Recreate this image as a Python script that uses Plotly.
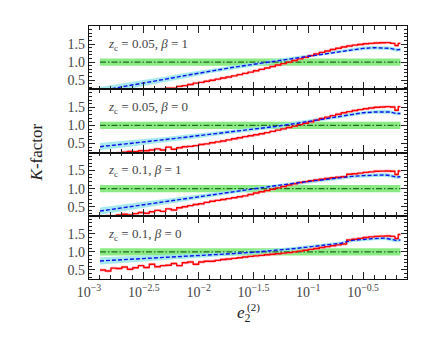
import plotly.graph_objects as go
from plotly.subplots import make_subplots

# x values are log10(e2)
BLUE_X = [-2.9, -2.7, -2.5, -2.3, -2.1, -1.9, -1.7, -1.5, -1.3, -1.1, -0.9,
          -0.7, -0.6, -0.5, -0.4, -0.3, -0.25, -0.2, -0.16]
BLUE_ERR = [0.10, 0.09, 0.08, 0.07, 0.07, 0.06, 0.06, 0.05, 0.05, 0.05, 0.05,
            0.05, 0.05, 0.05, 0.05, 0.05, 0.05, 0.05, 0.05]

blue_1 = [0.21, 0.31, 0.42, 0.53, 0.64, 0.75, 0.85, 0.94, 1.03, 1.12, 1.22,
          1.31, 1.35, 1.38, 1.40, 1.40, 1.38, 1.34, 1.35]
blue_2 = [0.41, 0.47, 0.54, 0.61, 0.68, 0.75, 0.82, 0.89, 0.97, 1.06, 1.16,
          1.27, 1.31, 1.35, 1.37, 1.38, 1.37, 1.33, 1.33]
blue_3 = [0.38, 0.47, 0.56, 0.65, 0.74, 0.83, 0.92, 1.00, 1.08, 1.16, 1.24,
          1.31, 1.34, 1.36, 1.38, 1.38, 1.36, 1.32, 1.33]
blue_4 = [0.75, 0.78, 0.82, 0.85, 0.88, 0.91, 0.95, 0.99, 1.04, 1.10, 1.17,
          1.24, 1.32, 1.35, 1.37, 1.38, 1.36, 1.32, 1.33]

RED_X = [-2.90, -2.85, -2.80, -2.75, -2.70, -2.65, -2.60, -2.55, -2.50, -2.45,
         -2.40, -2.35, -2.30, -2.25, -2.20, -2.15, -2.10, -2.05, -2.00, -1.95,
         -1.90, -1.85, -1.80, -1.75, -1.70, -1.65, -1.60, -1.55, -1.50, -1.45,
         -1.40, -1.35, -1.30, -1.25, -1.20, -1.15, -1.10, -1.05, -1.00, -0.95,
         -0.90, -0.85, -0.80, -0.75, -0.70, -0.65, -0.60, -0.55, -0.50, -0.45,
         -0.40, -0.35, -0.30, -0.25, -0.21, -0.18, -0.16]
RED_ERR = 0.04

red_1 = [-0.05, -0.02, 0.01, 0.04, 0.06, 0.09, 0.12, 0.15, 0.17, 0.20,
         0.23, 0.26, 0.28, 0.28, 0.33, 0.35, 0.38, 0.42, 0.44, 0.47,
         0.50, 0.53, 0.56, 0.59, 0.62, 0.655, 0.69, 0.725, 0.76, 0.80,
         0.84, 0.88, 0.92, 0.96, 1.00, 1.045, 1.09, 1.135, 1.18, 1.225,
         1.27, 1.31, 1.35, 1.385, 1.42, 1.445, 1.47, 1.49, 1.51, 1.52,
         1.53, 1.535, 1.54, 1.52, 1.46, 1.52, 1.52]
red_2 = [0.16, 0.19, 0.22, 0.24, 0.26, 0.28, 0.27, 0.30, 0.30, 0.32,
         0.35, 0.32, 0.40, 0.34, 0.38, 0.41, 0.42, 0.44, 0.47, 0.49,
         0.52, 0.545, 0.57, 0.60, 0.63, 0.66, 0.69, 0.715, 0.74, 0.77,
         0.80, 0.835, 0.87, 0.905, 0.94, 0.98, 1.02, 1.06, 1.10, 1.145,
         1.19, 1.23, 1.27, 1.31, 1.35, 1.38, 1.41, 1.435, 1.46, 1.48,
         1.50, 1.51, 1.52, 1.51, 1.42, 1.52, 1.52]
red_3 = [0.22, 0.25, 0.24, 0.27, 0.29, 0.27, 0.31, 0.34, 0.32, 0.36,
         0.40, 0.37, 0.44, 0.41, 0.47, 0.50, 0.53, 0.56, 0.58, 0.62,
         0.65, 0.675, 0.70, 0.725, 0.75, 0.775, 0.80, 0.84, 0.88, 0.915,
         0.95, 0.985, 1.02, 1.06, 1.10, 1.135, 1.17, 1.195, 1.22, 1.24,
         1.26, 1.28, 1.30, 1.315, 1.33, 1.40, 1.41, 1.43, 1.45, 1.465,
         1.48, 1.485, 1.49, 1.48, 1.39, 1.49, 1.49]
red_4 = [0.50, 0.47, 0.55, 0.54, 0.58, 0.52, 0.56, 0.62, 0.57, 0.66,
         0.59, 0.62, 0.63, 0.68, 0.62, 0.70, 0.72, 0.66, 0.72, 0.74,
         0.74, 0.765, 0.79, 0.805, 0.82, 0.84, 0.86, 0.875, 0.89, 0.905,
         0.92, 0.935, 0.95, 0.965, 0.98, 1.00, 1.02, 1.045, 1.07, 1.095,
         1.12, 1.145, 1.17, 1.195, 1.22, 1.33, 1.35, 1.375, 1.40, 1.415,
         1.43, 1.435, 1.44, 1.43, 1.37, 1.48, 1.48]

GREEN_X = [-2.9, -0.16]
GREEN_ERR = 0.1

labels = ["<i>z</i><sub>c</sub> = 0.05, <i>β</i> = 1",
          "<i>z</i><sub>c</sub> = 0.05, <i>β</i> = 0",
          "<i>z</i><sub>c</sub> = 0.1, <i>β</i> = 1",
          "<i>z</i><sub>c</sub> = 0.1, <i>β</i> = 0"]
blues = [blue_1, blue_2, blue_3, blue_4]
reds = [red_1, red_2, red_3, red_4]

x_tickvals = [-3, -2.5, -2, -1.5, -1, -0.5]
x_ticktext = ["10<sup>−3</sup>", "10<sup>−2.5</sup>", "10<sup>−2</sup>",
              "10<sup>−1.5</sup>", "10<sup>−1</sup>", "10<sup>−0.5</sup>"]

FONT = "Liberation Serif, Times New Roman, serif"

fig = make_subplots(rows=4, cols=1, shared_xaxes=True, vertical_spacing=0)

for i in range(4):
    r = i + 1
    b = blues[i]
    rd = reds[i]
    # green band + line
    fig.add_trace(go.Scatter(x=GREEN_X, y=[1 + GREEN_ERR] * 2, mode="lines",
                             line=dict(width=0), showlegend=False, hoverinfo="skip"), row=r, col=1)
    fig.add_trace(go.Scatter(x=GREEN_X, y=[1 - GREEN_ERR] * 2, mode="lines",
                             line=dict(width=0), fill="tonexty",
                             fillcolor="rgba(120,230,110,0.85)", showlegend=False), row=r, col=1)
    # blue band
    fig.add_trace(go.Scatter(x=BLUE_X, y=[v + e for v, e in zip(b, BLUE_ERR)], mode="lines",
                             line=dict(width=0), showlegend=False), row=r, col=1)
    fig.add_trace(go.Scatter(x=BLUE_X, y=[v - e for v, e in zip(b, BLUE_ERR)], mode="lines",
                             line=dict(width=0), fill="tonexty",
                             fillcolor="rgba(150,230,235,0.85)", showlegend=False), row=r, col=1)
    # red band
    fig.add_trace(go.Scatter(x=RED_X, y=[v + RED_ERR for v in rd], mode="lines",
                             line=dict(width=0, shape="hv"), showlegend=False), row=r, col=1)
    fig.add_trace(go.Scatter(x=RED_X, y=[v - RED_ERR for v in rd], mode="lines",
                             line=dict(width=0, shape="hv"), fill="tonexty",
                             fillcolor="rgba(255,160,180,0.7)", showlegend=False), row=r, col=1)
    # lines
    fig.add_trace(go.Scatter(x=GREEN_X, y=[1, 1], mode="lines",
                             line=dict(color="#1e6b1e", width=1.2, dash="6px,2px,1.5px,2px"),
                             showlegend=False), row=r, col=1)
    fig.add_trace(go.Scatter(x=RED_X, y=rd, mode="lines",
                             line=dict(color="red", width=1.4, shape="hv"),
                             showlegend=False), row=r, col=1)
    fig.add_trace(go.Scatter(x=BLUE_X, y=b, mode="lines",
                             line=dict(color="#1010ee", width=1.4, dash="4px,2px"),
                             showlegend=False), row=r, col=1)

    suffix = "" if r == 1 else str(r)
    fig.add_annotation(text=labels[i], xref="x%s domain" % suffix, yref="y%s domain" % suffix,
                       x=0.055, y=0.71, xanchor="left", yanchor="middle", showarrow=False,
                       font=dict(family=FONT, size=13, color="#444"))

fig.update_yaxes(range=[0.25, 2.0], tickvals=[0.5, 1.0, 1.5], ticktext=["0.5", "1.0", "1.5"],
                 ticks="inside", ticklen=6, tickcolor="#222", showline=True, linecolor="#111",
                 linewidth=1.3, mirror="allticks", showgrid=False, zeroline=False,
                 minor=dict(dtick=0.1, tick0=0, ticks="inside", ticklen=3, tickcolor="#222"),
                 tickfont=dict(family=FONT, size=14, color="#444"))
fig.update_xaxes(range=[-3, -0.1], tickvals=x_tickvals, ticktext=x_ticktext,
                 ticks="inside", ticklen=7, tickcolor="#222", showline=True, linecolor="#111",
                 linewidth=1.3, mirror="allticks", showgrid=False, zeroline=False,
                 minor=dict(dtick=0.1, tick0=0, ticks="inside", ticklen=3.5, tickcolor="#222"),
                 tickfont=dict(family=FONT, size=14, color="#444"))

fig.add_annotation(text="<i>K</i>-factor", xref="paper", yref="paper", x=-0.2, y=0.5,
                   textangle=-90, showarrow=False, font=dict(family=FONT, size=17, color="#222"))
# e_2^(2): subscript and superscript stacked, done as two pieces
fig.add_annotation(text="<i>e</i><sub>2</sub>", xref="paper", yref="paper",
                   x=0.487, y=-0.19, showarrow=False, font=dict(family=FONT, size=17, color="#222"))
fig.add_annotation(text="(2)", xref="paper", yref="paper", xanchor="left",
                   x=0.492, y=-0.147, showarrow=False, font=dict(family=FONT, size=11, color="#222"))

# page body adds an 8px offset, so the figure is a bit smaller than the window
fig.update_layout(width=426, height=337, margin=dict(l=81, r=27, t=18, b=66),
                  plot_bgcolor="white", paper_bgcolor="white", showlegend=False)

fig.write_html("out.html")
